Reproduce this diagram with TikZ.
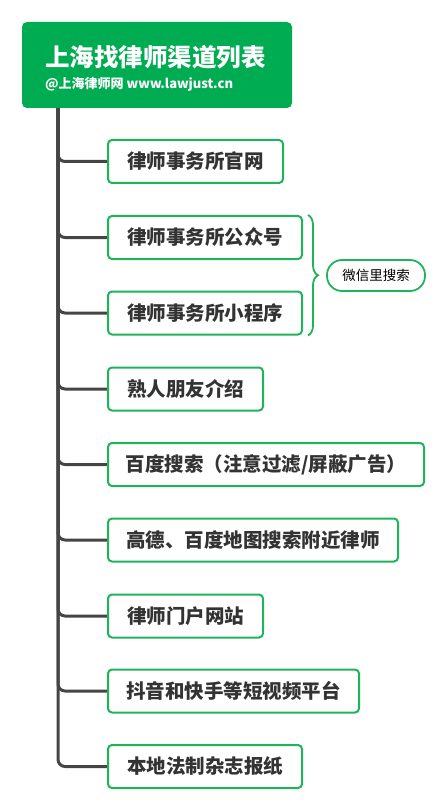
\documentclass[tikz,border=0pt]{standalone}
\usepackage{fontspec}
\newfontfamily\cjk{Noto Sans CJK SC}
\usetikzlibrary{decorations.pathreplacing,backgrounds}
\definecolor{rootgreen}{HTML}{00AC52}
\definecolor{boxgreen}{HTML}{1DB45A}
\definecolor{linegray}{HTML}{454545}
\definecolor{txt}{HTML}{333333}
\begin{document}
\begin{tikzpicture}[x=1pt,y=-1pt,
  itembox/.style={draw=boxgreen, line width=2pt, rounded corners=4pt, fill=white,
    minimum height=43pt, inner sep=0pt, text=txt,
    font=\cjk\bfseries\fontsize{19.5}{22}\selectfont},
  branch/.style={draw=linegray, line width=3pt, rounded corners=7pt},
  bracestyle/.style={draw=boxgreen, line width=1.8pt, decorate,
    decoration={brace, amplitude=10pt}}]
\useasboundingbox (0,0) rectangle (446,810);
\node[fill=rootgreen, rounded corners=5pt, minimum width=270pt, minimum height=86pt, inner sep=0pt] (root) at (157,65) {};
\node[anchor=west, text=white, inner sep=0pt, font=\cjk\bfseries\fontsize{24.5}{28}\selectfont] (title) at (45,57.5) {上海找律师渠道列表};
\node[anchor=west, text=white, inner sep=0pt, font=\cjk\bfseries\fontsize{13}{15}\selectfont] (sub) at (45,84.5) {@上海律师网 www.lawjust.cn};
\coordinate (top) at (58,108);
\node[itembox, minimum width=175pt] (b1) at (195.5,161.5) {律师事务所官网};
\node[itembox, minimum width=194pt] (b2) at (205,237.5) {律师事务所公众号};
\node[itembox, minimum width=194pt] (b3) at (205,313) {律师事务所小程序};
\node[itembox, minimum width=155pt] (b4) at (185.5,389) {熟人朋友介绍};
\node[itembox, minimum width=316pt] (b5) at (266,464.5) {百度搜索（注意过滤/屏蔽广告）};
\node[itembox, minimum width=290pt] (b6) at (253,540) {高德、百度地图搜索附近律师};
\node[itembox, minimum width=155pt] (b7) at (185.5,616) {律师门户网站};
\node[itembox, minimum width=251pt] (b8) at (233.5,691) {抖音和快手等短视频平台};
\node[itembox, minimum width=194pt] (b9) at (205,766.5) {本地法制杂志报纸};
\begin{pgfonlayer}{background}
\foreach \b in {b1,b2,b3,b4,b5,b6,b7,b8,b9}{
  \draw[branch] (top) |- (\b.west);
}
\end{pgfonlayer}
\draw[bracestyle] ([xshift=5pt]b2.north east) -- ([xshift=5pt]b3.south east);
\node[draw=boxgreen, line width=1.8pt, rounded corners=15pt, minimum width=98pt, minimum height=31pt, inner sep=0pt, text=black, font=\cjk\fontsize{13.5}{16}\selectfont] (wx) at (376,275.5) {微信里搜索};
\end{tikzpicture}
\end{document}
